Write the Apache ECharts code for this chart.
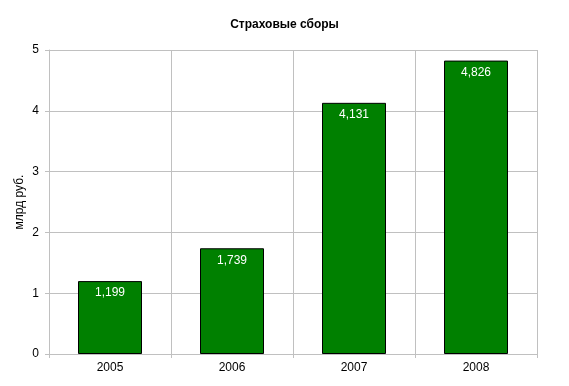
<!DOCTYPE html>
<html>
<head>
<meta charset="utf-8">
<script src="https://cdn.jsdelivr.net/npm/echarts@6/dist/echarts.min.js"></script>
<style>html,body{margin:0;padding:0;background:#fff}#c{width:569px;height:386px}</style>
</head>
<body>
<div id="c"></div>
<script>
var categories = ['2005', '2006', '2007', '2008'];
var values = [1.199, 1.739, 4.131, 4.826];
var yTicks = [0, 1, 2, 3, 4, 5];
var titleText = 'Страховые сборы';
var yAxisName = 'млрд руб.';

var font = '"Liberation Sans", Arial, sans-serif';
var chart = echarts.init(document.getElementById('c'));
chart.setOption({
  animation: false,
  backgroundColor: '#fff',
  title: {
    text: titleText,
    left: 'center', top: 19,
    padding: [0, 0, 0, 0],
    textStyle: { fontFamily: font, fontSize: 12, fontWeight: 'bold', color: '#000' }
  },
  grid: { left: 49, right: 32, top: 50, bottom: 32, containLabel: false },
  xAxis: {
    type: 'category',
    data: categories,
    boundaryGap: true,
    axisLine: { lineStyle: { color: '#c0c0c0', width: 1 } },
    axisTick: { show: true, alignWithLabel: false, length: 4, lineStyle: { color: '#c0c0c0' } },
    splitLine: { show: true, lineStyle: { color: '#c0c0c0', width: 1 } },
    axisLabel: { color: '#000', fontFamily: font, fontSize: 12, margin: 8 }
  },
  yAxis: {
    type: 'value',
    min: yTicks[0], max: yTicks[yTicks.length - 1], interval: 1,
    name: yAxisName,
    nameLocation: 'middle',
    nameRotate: 90,
    nameGap: 23,
    nameMoveOverlap: false,
    nameTextStyle: { color: '#000', fontFamily: font, fontSize: 12 },
    axisLine: { show: true, lineStyle: { color: '#c0c0c0', width: 1 } },
    axisTick: { show: true, length: 4, lineStyle: { color: '#c0c0c0' } },
    splitLine: { show: true, lineStyle: { color: '#c0c0c0', width: 1 } },
    axisLabel: { color: '#000', fontFamily: font, fontSize: 12, margin: 10 }
  },
  series: [{
    type: 'bar',
    data: values,
    barWidth: 64,
    itemStyle: { color: '#008000', borderColor: '#000', borderWidth: 1 },
    label: {
      show: true,
      position: 'insideTop',
      distance: 6,
      color: '#fff',
      fontFamily: font,
      fontSize: 12,
      formatter: function (p) { return p.value.toFixed(3).replace('.', ','); }
    }
  }]
});
</script>
</body>
</html>
